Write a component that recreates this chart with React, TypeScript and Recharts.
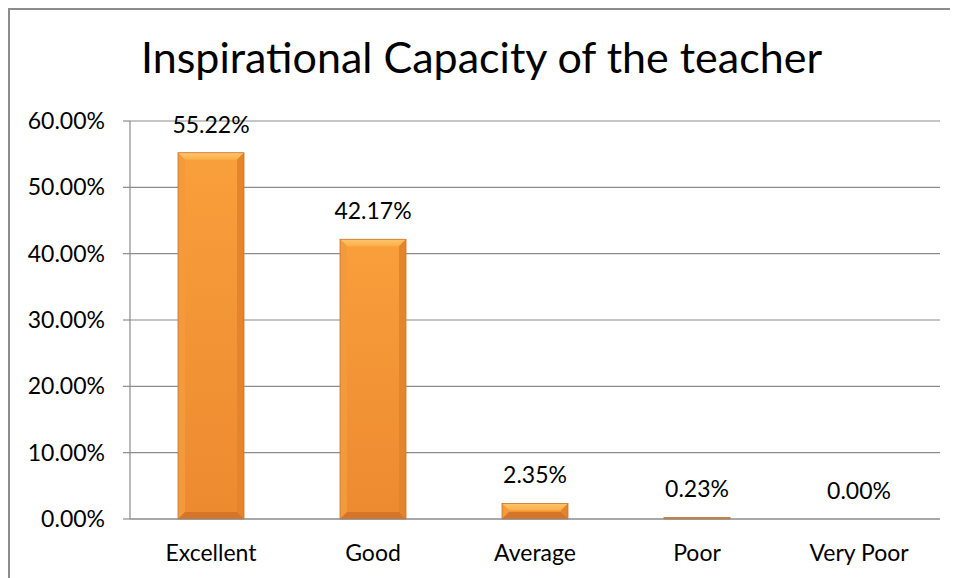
import { BarChart, Bar, XAxis, YAxis, CartesianGrid, LabelList } from "recharts";

const categories = ["Excellent", "Good", "Average", "Poor", "Very Poor"];
const percentages = [55.22, 42.17, 2.35, 0.23, 0.0];
const yTicks = [0, 10, 20, 30, 40, 50, 60];
const edgeTicks = [0, 1, 2, 3, 4, 5];

const data = categories.map((name, i) => ({ name, value: percentages[i], pos: i + 0.5 }));

const FONT = "Lato, 'Open Sans', sans-serif";
const GRID = "#8c8c8c";
const FS = 23;

// bevelled orange bar, like the Excel preset
function BevelBar(props: any) {
  const { x, y, width, height } = props;
  if (!height || height <= 0) return <g />;
  const b = Math.min(7, height / 2, width / 2);
  const r = x + width;
  const btm = y + height;
  return (
    <g>
      <rect x={x} y={y} width={width} height={height} fill="url(#barBody)" />
      <polygon points={`${x},${y} ${r},${y} ${r - b},${y + b} ${x + b},${y + b}`} fill="url(#barTop)" />
      <polygon points={`${x},${y} ${x + b},${y + b} ${x + b},${btm - b} ${x},${btm}`} fill="#f59a3a" />
      <polygon points={`${r},${y} ${r - b},${y + b} ${r - b},${btm - b} ${r},${btm}`} fill="#e4842c" />
      <polygon points={`${x},${btm} ${x + b},${btm - b} ${r - b},${btm - b} ${r},${btm}`} fill="#d4752a" />
      <rect x={x} y={y} width={width} height={height} fill="none" stroke="#c9742f" strokeWidth={0.8} />
    </g>
  );
}

export default function App() {
  return (
    <div
      style={{
        position: "relative",
        width: 948,
        height: 568,
        borderLeft: `2px solid ${GRID}`,
        borderTop: `2px solid ${GRID}`,
        fontFamily: FONT,
        overflow: "hidden",
      }}
    >
      <svg width={948} height={80} style={{ position: "absolute", left: 0, top: 0 }}>
        <text x={471.5} y={63} textAnchor="middle" fontSize={43} fontFamily={FONT} fill="#000">
          Inspirational Capacity of the teacher
        </text>
      </svg>
      <BarChart
        width={948}
        height={568}
        data={data}
        margin={{ top: 111, right: 18, bottom: 19, left: 0 }}
        barSize={66}
      >
        <defs>
          <linearGradient id="barBody" x1="0" y1="0" x2="0" y2="1">
            <stop offset="0%" stopColor="#f99f3b" />
            <stop offset="100%" stopColor="#ec8a30" />
          </linearGradient>
          <linearGradient id="barTop" x1="0" y1="0" x2="0" y2="1">
            <stop offset="0%" stopColor="#fdc56b" />
            <stop offset="100%" stopColor="#fcae4a" />
          </linearGradient>
        </defs>
        <CartesianGrid vertical={false} stroke={GRID} strokeWidth={1.2} />
        <XAxis
          xAxisId="edge"
          type="number"
          dataKey="pos"
          domain={[0, 5]}
          ticks={edgeTicks}
          height={0}
          axisLine={false}
          tickSize={8}
          tickLine={{ stroke: GRID, strokeWidth: 1.2 }}
          tick={() => <g />}
        />
        <XAxis
          xAxisId="cat"
          dataKey="name"
          height={40}
          axisLine={{ stroke: GRID, strokeWidth: 1.2 }}
          tickLine={false}
          tick={{ fill: "#000", fontSize: FS, fontFamily: FONT }}
          tickMargin={20}
        />
        <YAxis
          width={120}
          domain={[0, 60]}
          ticks={yTicks}
          interval={0}
          tickFormatter={(v: number) => `${v.toFixed(2)}%`}
          axisLine={{ stroke: GRID, strokeWidth: 1.2 }}
          tickLine={{ stroke: GRID, strokeWidth: 1.2 }}
          tickSize={7}
          tickMargin={18}
          tick={{ fill: "#000", fontSize: FS, fontFamily: FONT }}
        />
        <Bar xAxisId="cat" dataKey="value" shape={BevelBar} isAnimationActive={false}>
          <LabelList
            dataKey="value"
            position="top"
            offset={20}
            formatter={(v: any) => `${Number(v).toFixed(2)}%`}
            fill="#000"
            fontSize={FS}
            fontFamily={FONT}
          />
        </Bar>
      </BarChart>
    </div>
  );
}
